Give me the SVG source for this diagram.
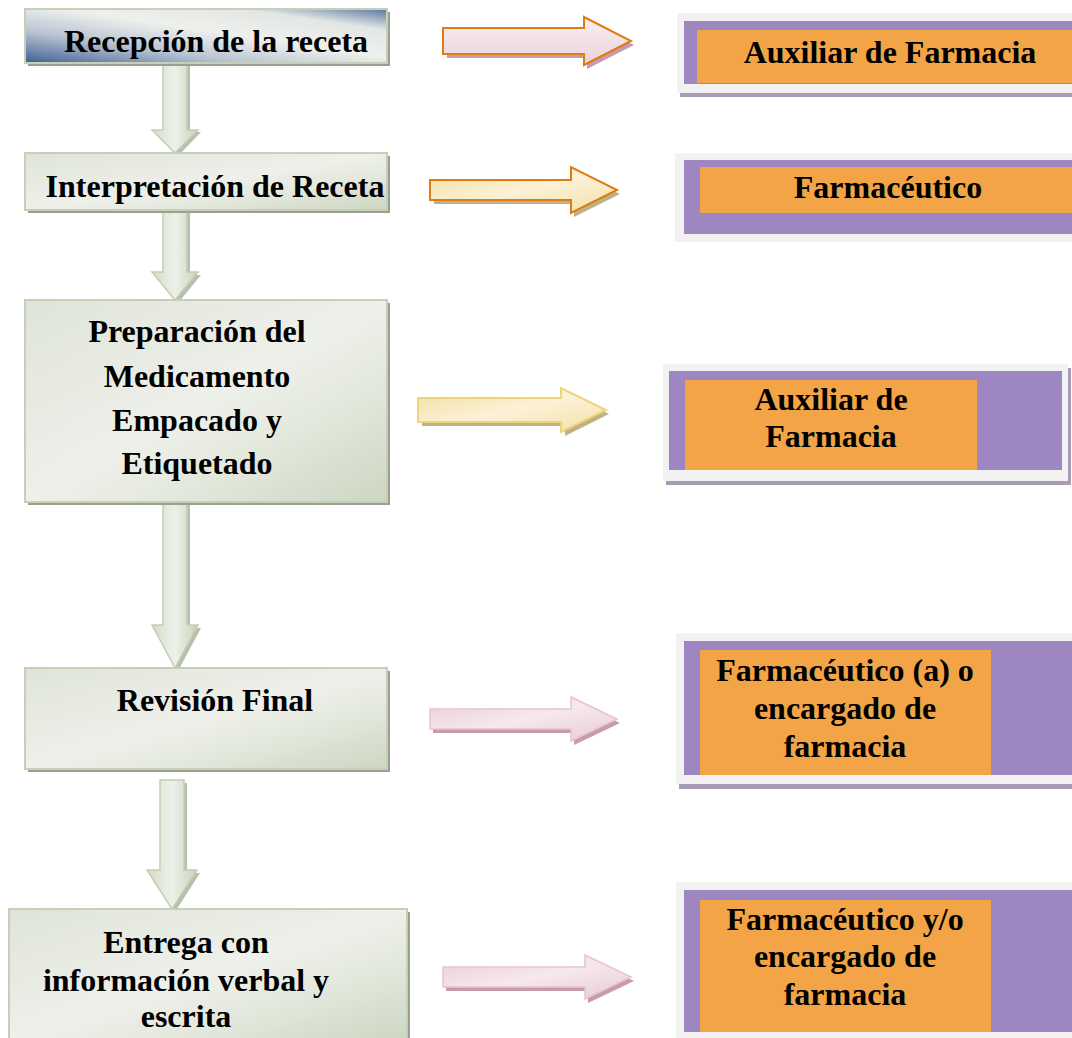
<svg xmlns="http://www.w3.org/2000/svg" width="1072" height="1038" viewBox="0 0 1072 1038">
<defs>
<linearGradient id="gBlue" x1="0" y1="1" x2="1" y2="0">
<stop offset="0" stop-color="#3f5f92"/>
<stop offset="0.3" stop-color="#b9c4d2"/>
<stop offset="0.55" stop-color="#eef0ec"/>
<stop offset="0.8" stop-color="#e3e7e4"/>
<stop offset="1" stop-color="#5a76a3"/>
</linearGradient>
<linearGradient id="gGreen" x1="0" y1="0" x2="1" y2="1">
<stop offset="0" stop-color="#dfe4d8"/>
<stop offset="0.5" stop-color="#eef0ea"/>
<stop offset="0.7" stop-color="#e3e8dc"/>
<stop offset="1" stop-color="#cdd6c2"/>
</linearGradient>
<linearGradient id="gDown" x1="0" y1="0" x2="1" y2="0">
<stop offset="0" stop-color="#d5dcc9"/>
<stop offset="0.5" stop-color="#eef1ea"/>
<stop offset="1" stop-color="#c9d2bb"/>
</linearGradient>
<linearGradient id="gPink" x1="0" y1="0" x2="0" y2="1">
<stop offset="0" stop-color="#f9eef2"/>
<stop offset="1" stop-color="#ead3db"/>
</linearGradient>
<linearGradient id="gCream" x1="0" y1="0" x2="1" y2="1">
<stop offset="0" stop-color="#f3dda0"/>
<stop offset="0.5" stop-color="#fbf2d6"/>
<stop offset="1" stop-color="#f3e0a8"/>
</linearGradient>
<linearGradient id="gPinkSoft" x1="0" y1="0" x2="1" y2="1">
<stop offset="0" stop-color="#ebcdd7"/>
<stop offset="0.5" stop-color="#f6e8ee"/>
<stop offset="1" stop-color="#e8cbd5"/>
</linearGradient>
</defs>
<style>
.t{font-family:"Liberation Serif","Times New Roman",serif;font-weight:bold;font-size:32px;fill:#000;text-anchor:middle}
.lbox{stroke:#c6d0b8;stroke-width:2}
.lsh{fill:#9aa08f}
.down{fill:url(#gDown);stroke:#c4ceb4;stroke-width:1.5}
.dsh{fill:#b8bfac}
.outer{fill:#f2f2f2}
.purple{fill:#9e86c0}
.orange{fill:#f2a446}
.rsh{fill:#a79bb6}
</style>
<rect width="1072" height="1038" fill="#fff"/>

<g id="connectors">
<path class="dsh" d="M166,66 h24 v66 h11 l-23,24 l-23,-24 h11 z"/>
<path class="down" d="M163,63 h24 v67 h11 l-23,23 l-23,-23 h11 z"/>
<path class="dsh" d="M166,213 h24 v62 h11 l-23,28 l-23,-28 h11 z"/>
<path class="down" d="M163,210 h24 v62 h11 l-23,28 l-23,-28 h11 z"/>
<path class="dsh" d="M166,505 h24 v123 h11 l-23,43 l-23,-43 h11 z"/>
<path class="down" d="M163,502 h24 v123 h11 l-23,43 l-23,-43 h11 z"/>
<path class="dsh" d="M163,783 h24 v90 h13 l-25,39 l-25,-39 h13 z"/>
<path class="down" d="M160,780 h24 v90 h13 l-25,39 l-25,-39 h13 z"/>
<path d="M447,32 h140 v-11 l47,24 l-47,24 v-11 h-140 z" fill="#c79ab0"/>
<path d="M443,28 h141 v-11 l47,24 l-47,24 v-11 h-141 z" fill="url(#gPink)" stroke="#e07b12" stroke-width="2"/>
<path d="M434,184 h140 v-13 l46,23 l-46,23 v-13 h-140 z" fill="#bdb08a"/>
<path d="M430,180 h141 v-13 l46,23 l-46,23 v-13 h-141 z" fill="url(#gCream)" stroke="#e07b12" stroke-width="2"/>
<path d="M422,402 h143 v-10 l44,22 l-44,22 v-10 h-143 z" fill="#bdb386"/>
<path d="M418,398 h143 v-10 l45,22 l-45,22 v-10 h-143 z" fill="url(#gCream)" stroke="#efd37a" stroke-width="2"/>
<path d="M433,713 h141 v-12 l46,22 l-46,22 v-12 h-141 z" fill="#c99aac"/>
<path d="M430,709 h141 v-12 l46,22 l-46,22 v-12 h-141 z" fill="url(#gPinkSoft)" stroke="#e6c3cf" stroke-width="1.5"/>
<path d="M446,971 h142 v-12 l46,22 l-46,22 v-12 h-142 z" fill="#c99aac"/>
<path d="M443,967 h142 v-12 l46,22 l-46,22 v-12 h-142 z" fill="url(#gPinkSoft)" stroke="#e6c3cf" stroke-width="1.5"/>
</g>

<g id="n1">
<rect class="lsh" x="28" y="12" width="362" height="54"/>
<rect class="lbox" x="25" y="9" width="362" height="54" fill="url(#gBlue)"/>
<text class="t" x="216" y="52">Recepción de la receta</text>
</g>
<g id="n2">
<rect class="lsh" x="28" y="156" width="362" height="57"/>
<rect class="lbox" x="25" y="153" width="362" height="57" fill="url(#gGreen)"/>
<text class="t" x="215" y="197">Interpretación de Receta</text>
</g>
<g id="n3">
<rect class="lsh" x="28" y="303" width="362" height="202"/>
<rect class="lbox" x="25" y="300" width="362" height="202" fill="url(#gGreen)"/>
<text class="t" x="197" y="342">Preparación del</text>
<text class="t" x="197" y="387">Medicamento</text>
<text class="t" x="197" y="431">Empacado y</text>
<text class="t" x="197" y="474">Etiquetado</text>
</g>
<g id="n4">
<rect class="lsh" x="28" y="671" width="362" height="101"/>
<rect class="lbox" x="25" y="668" width="362" height="101" fill="url(#gGreen)"/>
<text class="t" x="215" y="711">Revisión Final</text>
</g>
<g id="n5">
<rect class="lsh" x="11" y="912" width="399" height="130"/>
<rect class="lbox" x="9" y="909" width="398" height="132" fill="url(#gGreen)"/>
<text class="t" x="186" y="953">Entrega con</text>
<text class="t" x="186" y="991">información verbal y</text>
<text class="t" x="186" y="1027">escrita</text>
</g>

<g id="r1">
<rect class="rsh" x="680" y="92" width="392" height="5"/>
<rect class="outer" x="677" y="13" width="395" height="80"/>
<rect class="purple" x="684" y="21" width="388" height="63"/>
<rect class="orange" x="697" y="30" width="375" height="53"/>
<text class="t" x="890" y="63">Auxiliar de Farmacia</text>
</g>
<g id="r2">
<rect class="outer" x="675" y="153" width="397" height="89"/>
<rect class="purple" x="684" y="160" width="388" height="74"/>
<rect class="orange" x="700" y="167" width="372" height="46"/>
<text class="t" x="888" y="198">Farmacéutico</text>
</g>
<g id="r3">
<rect class="rsh" x="666" y="368" width="405" height="117"/>
<rect class="outer" x="663" y="364" width="405" height="117"/>
<rect class="purple" x="669" y="371" width="393" height="99"/>
<rect class="orange" x="685" y="380" width="292" height="90"/>
<text class="t" x="831" y="410">Auxiliar de</text>
<text class="t" x="831" y="447">Farmacia</text>
</g>
<g id="r4">
<rect class="rsh" x="679" y="784" width="393" height="5"/>
<rect class="outer" x="676" y="633" width="396" height="151"/>
<rect class="purple" x="684" y="641" width="388" height="134"/>
<rect class="orange" x="700" y="650" width="291" height="125"/>
<text class="t" x="845" y="681">Farmacéutico (a) o</text>
<text class="t" x="845" y="719">encargado de</text>
<text class="t" x="845" y="757">farmacia</text>
</g>
<g id="r5">
<rect class="outer" x="676" y="882" width="396" height="156"/>
<rect class="purple" x="684" y="890" width="388" height="142"/>
<rect class="orange" x="700" y="900" width="291" height="132"/>
<text class="t" x="845" y="930">Farmacéutico y/o</text>
<text class="t" x="845" y="967">encargado de</text>
<text class="t" x="845" y="1005">farmacia</text>
</g>
</svg>
